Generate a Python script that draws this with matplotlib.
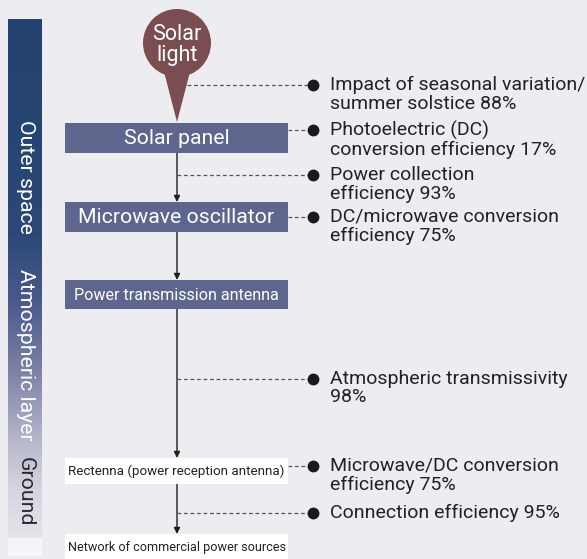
import matplotlib
matplotlib.use("Agg")
import matplotlib.pyplot as plt
import numpy as np
from matplotlib.patches import Rectangle, Circle, Polygon
from matplotlib.colors import LinearSegmentedColormap

# ---------------- data ----------------
source_label = "Solar\nlight"
stages = ["Solar panel", "Microwave oscillator", "Power transmission antenna",
          "Rectenna (power reception antenna)", "Network of commercial power sources"]
zones = ["Outer space", "Atmospheric layer", "Ground"]
factor_templates = ["Impact of seasonal variation/\nsummer solstice {}%",
                    "Photoelectric (DC)\nconversion efficiency {}%",
                    "Power collection\nefficiency {}%",
                    "DC/microwave conversion\nefficiency {}%",
                    "Atmospheric transmissivity\n{}%",
                    "Microwave/DC conversion\nefficiency {}%",
                    "Connection efficiency {}%"]
factor_pct = [88, 17, 93, 75, 98, 75, 95]

# ---------------- layout (pixel space) ----------------
W, H = 587, 559
BG = "#ECECF1"
BOX = "#5E668E"
BALLOON = "#7A4E50"
FONT = ["Roboto", "DejaVu Sans"]

stage_top = [123, 202, 280, 458, 534]
stage_bot = [153, 232, 309, 484, 559]
stage_fill = [BOX, BOX, BOX, "white", "white"]
stage_tcol = ["white", "white", "white", "#222222", "#222222"]
stage_fs = [15.3, 15.3, 11.6, 9.6, 9.05]
box_x0, box_x1 = 65, 288
cx = 177

factor_y = [85, 130, 175, 217, 379, 466, 513]
factor_x0 = [187, 288, 177, 288, 177, 288, 177]
marker_x = 313
text_x = 330

zone_y = [177, 355, 492]
zone_col = ["white", "white", "#2a2a2a"]

fig = plt.figure(figsize=(W / 100, H / 100), dpi=100)
fig.patch.set_facecolor(BG)
ax = fig.add_axes([0, 0, 1, 1])
ax.axis("off")
ax.set_facecolor(BG)

# gradient side bar
stops = [(0.0, "#23436E"), (0.40, "#2B4876"), (0.52, "#48598C"), (0.66, "#7E82A5"),
         (0.78, "#B4B5CA"), (0.88, "#D6D6E1"), (0.965, "#E3E3EA"), (0.97, "#F5F5F8"), (1.0, "#F7F7F9")]
cmap = LinearSegmentedColormap.from_list("bar", stops)
grad = np.linspace(0, 1, 512).reshape(-1, 1)
ax.imshow(grad, cmap=cmap, aspect="auto", extent=[8, 42, 556, 19], zorder=1, interpolation="bilinear")
ax.set_xlim(0, W)
ax.set_ylim(H, 0)

for z, y, c in zip(zones, zone_y, zone_col):
    ax.text(25, y, z, rotation=-90, ha="center", va="center", color=c,
            fontsize=15.3, family=FONT, zorder=3)

# balloon
ax.add_patch(Circle((cx, 43), 34, color=BALLOON, zorder=3, lw=0))
ax.add_patch(Polygon([(163, 68), (191, 68), (cx, 122)], closed=True, color=BALLOON, zorder=3, lw=0))
ax.text(cx, 45, source_label, ha="center", va="center", color="white",
        fontsize=15.5, family=FONT, linespacing=0.95, zorder=4)

# stage boxes
for i, (name, t, b, fc, tc, fs) in enumerate(zip(stages, stage_top, stage_bot, stage_fill, stage_tcol, stage_fs)):
    ax.add_patch(Rectangle((box_x0, t), box_x1 - box_x0, b - t, facecolor=fc, edgecolor="none", zorder=3))
    boxed = fc == BOX
    ax.text((box_x0 + box_x1) / 2 if boxed else 68, (t + b) / 2 + 0.5 if i < 4 else t + 13, name,
            ha="center" if boxed else "left", va="center", color=tc,
            fontsize=fs, family=FONT, zorder=4)

# arrows between stages
for i in range(len(stages) - 1):
    ax.annotate("", xy=(cx, stage_top[i + 1]), xytext=(cx, stage_bot[i]),
                arrowprops=dict(arrowstyle="-|>", color="#1e1e1e", lw=1.0,
                                mutation_scale=9, shrinkA=0, shrinkB=0), zorder=2)

# factor annotations
for tpl, p, y, x0 in zip(factor_templates, factor_pct, factor_y, factor_x0):
    ax.plot([x0, marker_x], [y, y], color="#555555", lw=0.9, ls=(0, (3.0, 2.2)), zorder=2)
    ax.plot([marker_x], [y], "o", color="#1a1a1a", ms=7.5, zorder=3)
    ax.text(text_x, y - 9.5, tpl.format(p), ha="left", va="top", color="#222222",
            fontsize=14, family=FONT, linespacing=1.07, zorder=4)

fig.savefig("out.png", dpi=100, facecolor=BG)
